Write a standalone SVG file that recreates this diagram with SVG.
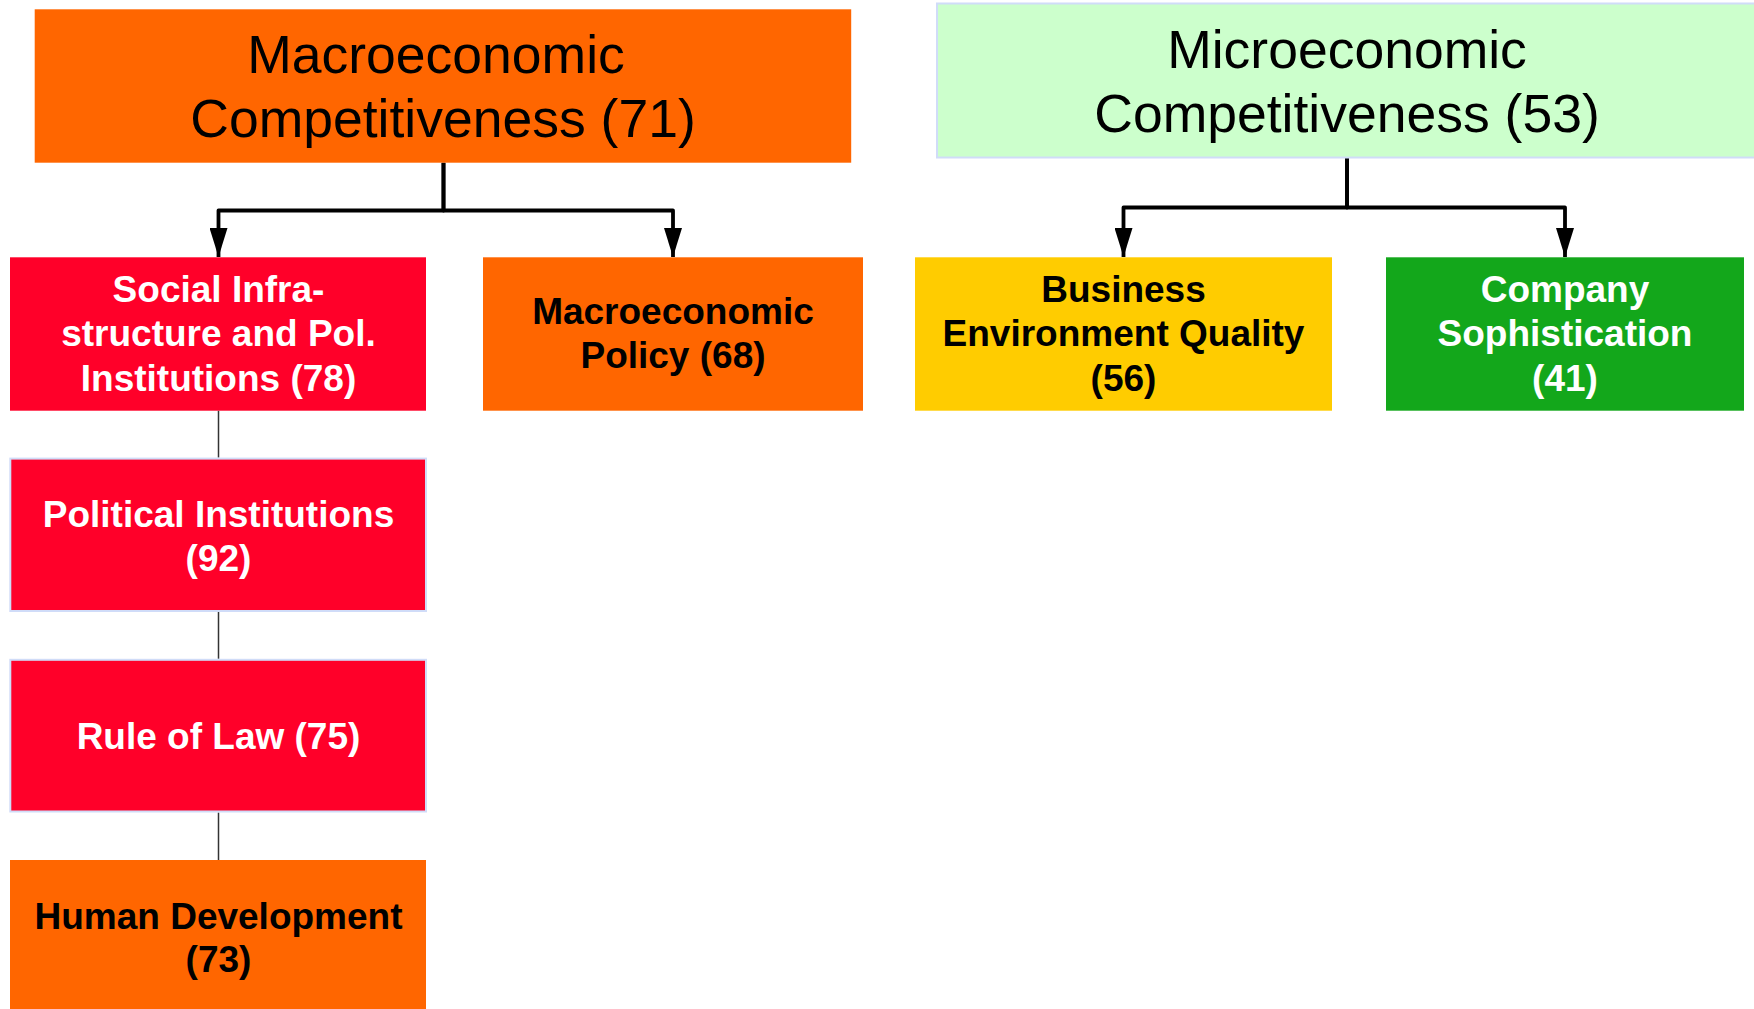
<svg xmlns="http://www.w3.org/2000/svg" width="1754" height="1009" viewBox="0 0 1754 1009">
  <style>
    .title { font-family: "Liberation Sans", Arial, sans-serif; font-size: 53.5px; fill: #000; text-anchor: middle; }
    .lbl { font-family: "Liberation Sans", Arial, sans-serif; font-size: 37px; font-weight: bold; text-anchor: middle; }
    .dark { fill: #000; }
    .light { fill: #fff; }
    .orange { fill: #FF6600; }
    .red { fill: #FF0029; }
    .yellow { fill: #FFCC00; }
    .green { fill: #13A71B; }
    .mint { fill: #CCFFCC; }
    .edged { stroke: #D0DCF8; stroke-width: 2; }
    .arrow { fill: none; stroke: #000; stroke-width: 3.8; stroke-linejoin: round; }
    .link { fill: none; stroke: #333; stroke-width: 1.5; }
  </style>
  <defs>
    <marker id="head" markerUnits="userSpaceOnUse" markerWidth="29" markerHeight="18" refX="29" refY="9" orient="auto">
      <path d="M0,0 L29,9 L0,18 z" fill="#000"/>
    </marker>
  </defs>
  <rect width="1754" height="1009" fill="#fff"/>

  <!-- connectors -->
  <g id="connectors">
    <path class="arrow" d="M443.5,162.7 V210.5 H218.5 V257" marker-end="url(#head)"/>
    <path class="arrow" d="M443.5,162.7 V210.5 H673 V257" marker-end="url(#head)"/>
    <path class="arrow" d="M1347,157 V207.5 H1123.5 V257" marker-end="url(#head)"/>
    <path class="arrow" d="M1347,157 V207.5 H1565 V257" marker-end="url(#head)"/>
    <path class="link" d="M218.5,410.7 V457.6"/>
    <path class="link" d="M218.5,611.5 V658.8"/>
    <path class="link" d="M218.5,812.5 V860"/>
  </g>

  <!-- top-level groups -->
  <g id="macro">
    <rect class="orange" x="34.7" y="9.3" width="816.5" height="153.4"/>
    <text class="title" x="436" y="72.7">Macroeconomic</text>
    <text class="title" x="443" y="137">Competitiveness (71)</text>
  </g>
  <g id="micro">
    <rect class="mint edged" x="937" y="3.5" width="830" height="154"/>
    <text class="title" x="1347" y="68.3">Microeconomic</text>
    <text class="title" x="1347" y="131.7">Competitiveness (53)</text>
  </g>

  <!-- second level -->
  <g id="social">
    <rect class="red" x="10" y="257.3" width="416" height="153.4"/>
    <text class="lbl light" x="218.5" y="301.7">Social Infra-</text>
    <text class="lbl light" x="218.5" y="346.2">structure and Pol.</text>
    <text class="lbl light" x="218.5" y="390.7">Institutions (78)</text>
  </g>
  <g id="policy">
    <rect class="orange" x="483" y="257.3" width="380" height="153.4"/>
    <text class="lbl dark" x="673" y="324">Macroeconomic</text>
    <text class="lbl dark" x="673" y="368.3">Policy (68)</text>
  </g>
  <g id="business">
    <rect class="yellow" x="915" y="257.3" width="417" height="153.4"/>
    <text class="lbl dark" x="1123.5" y="301.7">Business</text>
    <text class="lbl dark" x="1123.5" y="346.2">Environment Quality</text>
    <text class="lbl dark" x="1123.5" y="390.7">(56)</text>
  </g>
  <g id="company">
    <rect class="green" x="1386" y="257.3" width="358" height="153.4"/>
    <text class="lbl light" x="1565" y="301.7">Company</text>
    <text class="lbl light" x="1565" y="346.2">Sophistication</text>
    <text class="lbl light" x="1565" y="390.7">(41)</text>
  </g>

  <!-- social infrastructure breakdown -->
  <g id="political">
    <rect class="red edged" x="10.3" y="458.6" width="415.7" height="152.4"/>
    <text class="lbl light" x="218.5" y="526.5">Political Institutions</text>
    <text class="lbl light" x="218.5" y="571">(92)</text>
  </g>
  <g id="law">
    <rect class="red edged" x="10.3" y="659.8" width="415.7" height="151.7"/>
    <text class="lbl light" x="218.5" y="749">Rule of Law (75)</text>
  </g>
  <g id="human">
    <rect class="orange" x="10" y="860" width="416" height="153"/>
    <text class="lbl dark" x="218.5" y="929">Human Development</text>
    <text class="lbl dark" x="218.5" y="972">(73)</text>
  </g>
</svg>
